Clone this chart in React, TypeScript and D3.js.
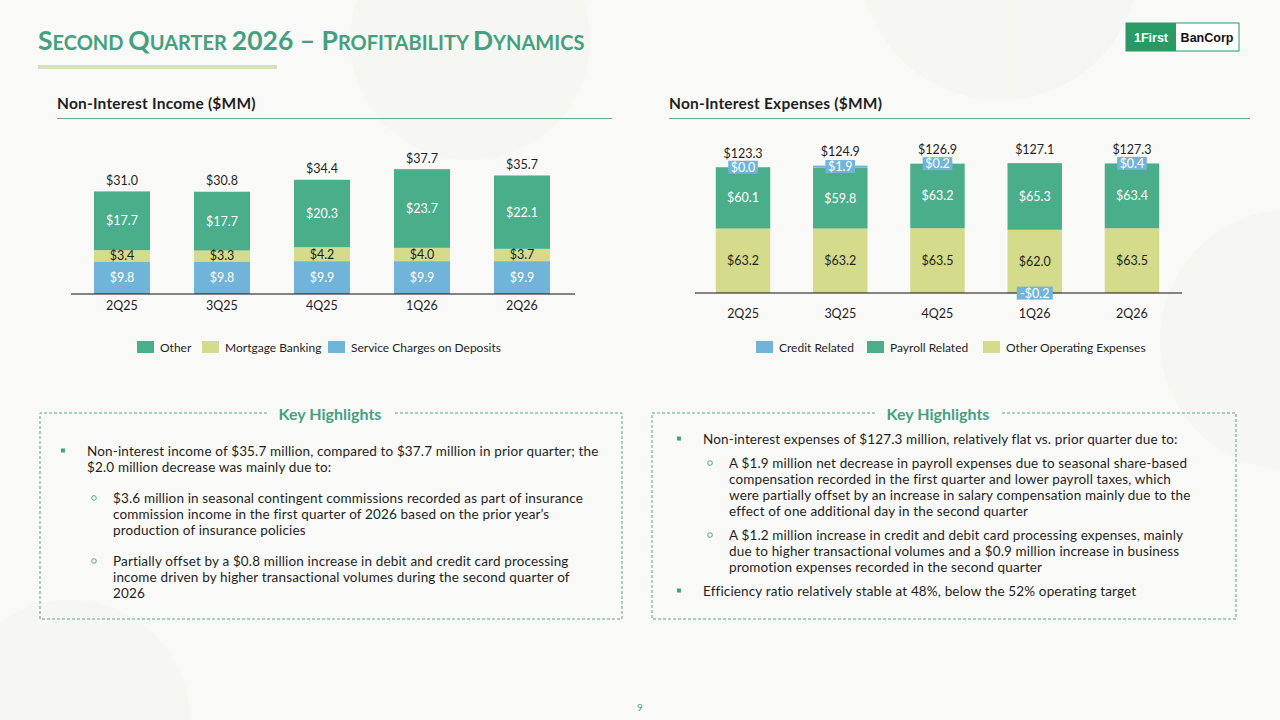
import React from 'react';
import * as d3 from 'd3';

const quarters = ['2Q25', '3Q25', '4Q25', '1Q26', '2Q26'];

// Non-interest income ($MM)
const serviceCharges = [9.8, 9.8, 9.9, 9.9, 9.9];
const mortgageBanking = [3.4, 3.3, 4.2, 4.0, 3.7];
const otherIncome = [17.7, 17.7, 20.3, 23.7, 22.1];
const incomeTotals = [31.0, 30.8, 34.4, 37.7, 35.7];

// Non-interest expenses ($MM)
const otherOperating = [63.2, 63.2, 63.5, 62.0, 63.5];
const payrollRelated = [60.1, 59.8, 63.2, 65.3, 63.4];
const creditRelated = [0.0, 1.9, 0.2, -0.2, 0.4];
const expenseTotals = [123.3, 124.9, 126.9, 127.1, 127.3];

const incomeLegend = ['Other', 'Mortgage Banking', 'Service Charges on Deposits'];
const expenseLegend = ['Credit Related', 'Payroll Related', 'Other Operating Expenses'];

const incomeNotes = [
  { level: 1, lines: ['Non-interest income of $35.7 million, compared to $37.7 million in prior quarter; the', '$2.0 million decrease was mainly due to:'] },
  { level: 2, lines: ['$3.6 million in seasonal contingent commissions recorded as part of insurance', 'commission income in the first quarter of 2026 based on the prior year\u2019s', 'production of insurance policies'] },
  { level: 2, lines: ['Partially offset by a $0.8 million increase in debit and credit card processing', 'income driven by higher transactional volumes during the second quarter of', '2026'] },
];

const expenseNotes = [
  { level: 1, lines: ['Non-interest expenses of $127.3 million, relatively flat vs. prior quarter due to:'] },
  { level: 2, lines: ['A $1.9 million net decrease in payroll expenses due to seasonal share-based', 'compensation recorded in the first quarter and lower payroll taxes, which', 'were partially offset by an increase in salary compensation mainly due to the', 'effect of one additional day in the second quarter'] },
  { level: 2, lines: ['A $1.2 million increase in credit and debit card processing expenses, mainly', 'due to higher transactional volumes and a $0.9 million increase in business', 'promotion expenses recorded in the second quarter'] },
  { level: 1, lines: ['Efficiency ratio relatively stable at 48%, below the 52% operating target'] },
];

const GREEN = '#4aae8a';
const YELLOW = '#d4dc8b';
const BLUE = '#71b4d9';
const ACCENT = '#45a07f';
const INK = '#1f1f1f';
const FONT = 'Lato, "Noto Sans", sans-serif';
const BG = '#f9f9f7';

const money = (v: number) => (v < 0 ? '-$' : '$') + Math.abs(v).toFixed(1);

type StackProps = {
  keys: string[];
  values: number[][];
  colors: string[];
  textColors: string[];
  boxedKey?: string;
  totals: number[];
  range: [number, number];
  axisExtent: [number, number];
  y: d3.ScaleLinear<number, number>;
  totalGap: number;
  catY: number;
};

const StackedBars = ({ keys, values, colors, textColors, boxedKey, totals, range, axisExtent, y, totalGap, catY }: StackProps) => {
  const rows = quarters.map((q, i) => {
    const r: Record<string, any> = { q };
    keys.forEach((k, j) => (r[k] = values[j][i]));
    return r;
  });
  const x = d3.scaleBand<string>().domain(quarters).range(range).paddingInner(0.44).paddingOuter(0.22);
  const stacked = d3.stack<Record<string, any>>().keys(keys).offset(d3.stackOffsetDiverging)(rows);
  // diverging offset drops zero values onto the baseline; sit them on top of the positive stack instead
  stacked.forEach((s, si) => {
    s.forEach((d, i) => {
      if (d[1] === d[0]) {
        const top = d3.max(stacked.slice(0, si), (p) => Math.max(0, p[i][1])) ?? 0;
        d[0] = top;
        d[1] = top;
      }
    });
  });
  const bw = x.bandwidth();

  return (
    <g fontFamily={FONT}>
      {stacked.map((s, si) => (
        <g key={s.key}>
          {s.map((d, i) => {
            const a = y(d[0]);
            const b = y(d[1]);
            return <rect key={i} x={x(quarters[i])} y={Math.min(a, b)} width={bw} height={Math.abs(a - b)} fill={colors[si]} />;
          })}
        </g>
      ))}
      <line x1={axisExtent[0]} x2={axisExtent[1]} y1={y(0)} y2={y(0)} stroke="#111" strokeWidth={1.2} />
      {stacked.map((s, si) => (
        <g key={'l' + s.key}>
          {s.map((d, i) => {
            const v = rows[i][s.key] as number;
            const cx = (x(quarters[i]) as number) + bw / 2;
            const cy = (y(d[0]) + y(d[1])) / 2;
            const txt = money(v);
            if (s.key === boxedKey) {
              const w = txt.length * 6.4 + 4;
              return (
                <g key={i}>
                  <rect x={cx - w / 2} y={cy - 6.5} width={w} height={13} fill={BLUE} />
                  <text x={cx} y={cy} textAnchor="middle" dominantBaseline="central" fontSize={12.5} fill="#fff">{txt}</text>
                </g>
              );
            }
            return (
              <text key={i} x={cx} y={cy} textAnchor="middle" dominantBaseline="central" fontSize={12.5} fill={textColors[si]}>{txt}</text>
            );
          })}
        </g>
      ))}
      {quarters.map((q, i) => {
        const top = d3.max(stacked, (s) => s[i][1]) as number;
        const cx = (x(q) as number) + bw / 2;
        return (
          <g key={'t' + q}>
            <text x={cx} y={y(top) - totalGap} textAnchor="middle" dominantBaseline="central" fontSize={12.5} fill={INK}>{money(totals[i])}</text>
            <text x={cx} y={catY} textAnchor="middle" dominantBaseline="central" fontSize={12.5} fill={INK}>{q}</text>
          </g>
        );
      })}
    </g>
  );
};

const Legend = ({ items, colors, xs, yc }: { items: string[]; colors: string[]; xs: number[]; yc: number }) => (
  <g fontFamily={FONT} fontSize={12} fill={INK}>
    {items.map((t, i) => (
      <g key={t}>
        <rect x={xs[i]} y={yc - 6} width={17} height={12} fill={colors[i]} />
        <text x={xs[i] + 23} y={yc} dominantBaseline="central">{t}</text>
      </g>
    ))}
  </g>
);

type Note = { level: number; lines: string[] };

const Highlights = ({ x, y, w, h, cx, notes, firstY, gap, bulletX }: { x: number; y: number; w: number; h: number; cx: number; notes: Note[]; firstY: number; gap: number; bulletX: number }) => {
  const titleW = 106;
  let cursor = firstY;
  const items = notes.map((n) => {
    const start = cursor;
    cursor += n.lines.length * 16 + gap;
    return { ...n, start };
  });
  return (
    <g fontFamily={FONT}>
      <path
        d={`M${cx - titleW / 2 - 10},${y} H${x} V${y + h} H${x + w} V${y} H${cx + titleW / 2 + 10}`}
        fill="none"
        stroke="#5aa58a"
        strokeWidth={1}
        strokeDasharray="3 2"
      />
      <text x={cx} y={y} textAnchor="middle" dominantBaseline="central" fontSize={16} fontWeight={700} fill={ACCENT}>Key Highlights</text>
      {items.map((n, i) => {
        const tx = n.level === 1 ? bulletX + 24 : bulletX + 50;
        return (
          <g key={i}>
            {n.level === 1 ? (
              <rect x={bulletX - 2} y={n.start - 2.5} width={4} height={4} fill={ACCENT} />
            ) : (
              <circle cx={bulletX + 31} cy={n.start} r={2.3} fill="none" stroke={ACCENT} strokeWidth={0.9} />
            )}
            {n.lines.map((l, j) => (
              <text key={j} x={tx} y={n.start + j * 16} dominantBaseline="central" fontSize={13.5} letterSpacing={0.15} fill={INK}>{l}</text>
            ))}
          </g>
        );
      })}
    </g>
  );
};

const Title = () => {
  const parts: [string, boolean][] = [
    ['S', true], ['ECOND ', false], ['Q', true], ['UARTER ', false], ['2026 \u2013 ', true],
    ['P', true], ['ROFITABILITY ', false], ['D', true], ['YNAMICS', false],
  ];
  return (
    <text x={38} y={50} fontFamily={FONT} fontWeight={700} fill={ACCENT}>
      {parts.map(([t, big], i) => (
        <tspan key={i} fontSize={big ? 26.5 : 20}>{t}</tspan>
      ))}
    </text>
  );
};

export default function App() {
  const yIncome = d3.scaleLinear().domain([0, 40]).range([294, 294 - 40 * 3.32]);
  const yExpense = d3.scaleLinear().domain([0, 130]).range([293, 293 - 130 * 1.02]);

  return (
    <div style={{ position: 'absolute', left: 0, top: 0 }}>
      <svg width={1280} height={720} style={{ display: 'block' }}>
        <rect width={1280} height={720} fill={BG} />
        <g fill="#eef1ec" opacity={0.3}>
          <circle cx={70} cy={720} r={120} />
          <circle cx={1290} cy={340} r={130} />
          <circle cx={470} cy={40} r={120} />
          <circle cx={1000} cy={-40} r={140} />
        </g>

        <Title />
        <rect x={38} y={65} width={239} height={4} fill="#d5e2b6" />

        <g>
          <rect x={1126} y={23} width={113} height={28} fill="#fff" stroke="#2a9a64" strokeWidth={1} />
          <rect x={1126} y={23} width={50} height={28} fill="#2a9a64" />
          <text x={1151} y={37.5} textAnchor="middle" dominantBaseline="central" fontFamily='"Liberation Sans", Arial, sans-serif' fontWeight={700} fontSize={12.5} fill="#fff">1First</text>
          <text x={1207} y={37.5} textAnchor="middle" dominantBaseline="central" fontFamily='"Liberation Sans", Arial, sans-serif' fontWeight={700} fontSize={12.5} fill="#111">BanCorp</text>
        </g>

        <g fontFamily={FONT} fontWeight={700} fontSize={15.5} letterSpacing={0.2} fill={INK}>
          <text x={57} y={103} dominantBaseline="central">Non-Interest Income ($MM)</text>
          <text x={669} y={103} dominantBaseline="central">Non-Interest Expenses ($MM)</text>
        </g>
        <line x1={57} x2={612} y1={118.5} y2={118.5} stroke="#6aa894" strokeWidth={1} />
        <line x1={669} x2={1250} y1={118.5} y2={118.5} stroke="#6aa894" strokeWidth={1} />

        <StackedBars
          keys={['service', 'mortgage', 'other']}
          values={[serviceCharges, mortgageBanking, otherIncome]}
          colors={[BLUE, YELLOW, GREEN]}
          textColors={['#fff', INK, '#fff']}
          totals={incomeTotals}
          range={[72, 572]}
          axisExtent={[71, 575]}
          y={yIncome}
          totalGap={11}
          catY={305}
        />
        <Legend items={incomeLegend} colors={[GREEN, YELLOW, BLUE]} xs={[137, 202, 328]} yc={347} />

        <StackedBars
          keys={['otherOp', 'payroll', 'credit']}
          values={[otherOperating, payrollRelated, creditRelated]}
          colors={[YELLOW, GREEN, BLUE]}
          textColors={[INK, '#fff', '#fff']}
          boxedKey="credit"
          totals={expenseTotals}
          range={[694.4, 1180.6]}
          axisExtent={[695, 1182]}
          y={yExpense}
          totalGap={14}
          catY={313}
        />
        <Legend items={expenseLegend} colors={[BLUE, GREEN, YELLOW]} xs={[756, 867, 983]} yc={347} />

        <Highlights x={40} y={413} w={582} h={206} cx={330} notes={incomeNotes} firstY={451} gap={15} bulletX={63} />
        <Highlights x={652} y={413} w={584} h={206} cx={938} notes={expenseNotes} firstY={439} gap={8} bulletX={679} />

        <text x={640} y={707} textAnchor="middle" dominantBaseline="central" fontFamily={FONT} fontSize={10} fill={ACCENT}>9</text>
      </svg>
    </div>
  );
}
